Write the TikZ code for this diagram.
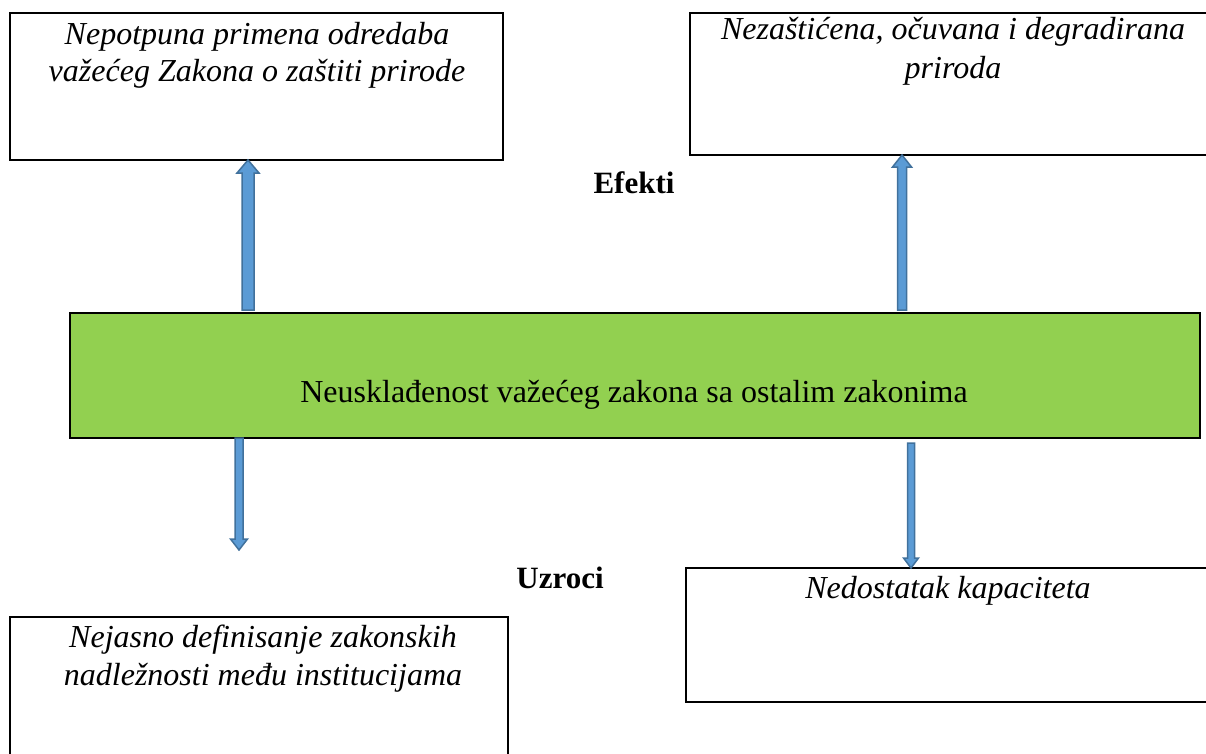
\documentclass[tikz,border=0pt]{standalone}
\usepackage{fontspec}
\setmainfont{Liberation Serif}
\usetikzlibrary{calc}
\definecolor{grn}{HTML}{92D050}
\definecolor{afill}{HTML}{5B9BD5}
\definecolor{aline}{HTML}{41719C}
\tikzset{
  box/.style={draw=black, line width=2pt, anchor=north west, inner sep=0pt, outer sep=0pt},
  boxtext/.style={anchor=north, align=center, inner sep=0pt, font=\fontsize{32}{37.5}\selectfont\itshape},
  tag/.style={inner sep=0pt, font=\fontsize{31}{36}\selectfont\bfseries},
  blockarr/.style={fill=afill, draw=aline, line width=1.5pt, line join=miter}
}
\newcommand{\blockarrow}[5]{%
  \filldraw[blockarr] ($(#1)+(-#3,0)$) -- ($(#2)+(-#3,#5)$) -- ($(#2)+(-#4,#5)$) -- (#2) -- ($(#2)+(#4,#5)$) -- ($(#2)+(#3,#5)$) -- ($(#1)+(#3,0)$) -- cycle;}
\begin{document}
\begin{tikzpicture}[x=1pt,y=-1pt]
\useasboundingbox (0,0) rectangle (1206,753);
% boxes
\node[box, minimum width=493, minimum height=147] (tl) at (10,13) {};
\node[box, minimum width=530, minimum height=142] (tr) at (690,13) {};
\node[box, fill=grn, minimum width=1130, minimum height=125] (green) at (70,313) {};
\node[box, minimum width=530, minimum height=134] (br) at (686,568) {};
\node[box, minimum width=498, minimum height=160] (bl) at (10,617) {};
% texts
\node[boxtext] (tlt) at (257,22) {Nepotpuna primena odredaba\\važećeg Zakona o zaštiti prirode};
\node[boxtext, font=\fontsize{32}{39}\selectfont\itshape] (trt) at (953,17) {Nezaštićena, očuvana i degradirana\\priroda};
\node[boxtext] (brt) at (948,576) {Nedostatak kapaciteta};
\node[boxtext] (blt) at (263,625) {Nejasno definisanje zakonskih\\nadležnosti među institucijama};
\node[inner sep=0pt, font=\fontsize{32}{38}\selectfont] (gt) at (634,395) {Neusklađenost važećeg zakona sa ostalim zakonima};
\node[tag] (ef) at (634,183) {Efekti};
\node[tag] (uz) at (560,578) {Uzroci};
% arrows
\coordinate (a1s) at (248,310);
\coordinate (a1e) at (248,0 |- tl.south);
\coordinate (a2s) at (902,310);
\coordinate (a2e) at (902,0 |- tr.south);
\coordinate (a3s) at (239,0 |- green.south);
\coordinate (a3e) at (239,550);
\coordinate (a4s) at (911,443);
\coordinate (a4e) at (911,0 |- br.north);
\blockarrow{a1s}{a1e}{6}{11}{13}
\blockarrow{a2s}{a2e}{4.5}{9.5}{12}
\blockarrow{a3s}{a3e}{4}{8.5}{-11}
\blockarrow{a4s}{a4e}{3.5}{7.5}{-10}
\end{tikzpicture}
\end{document}
